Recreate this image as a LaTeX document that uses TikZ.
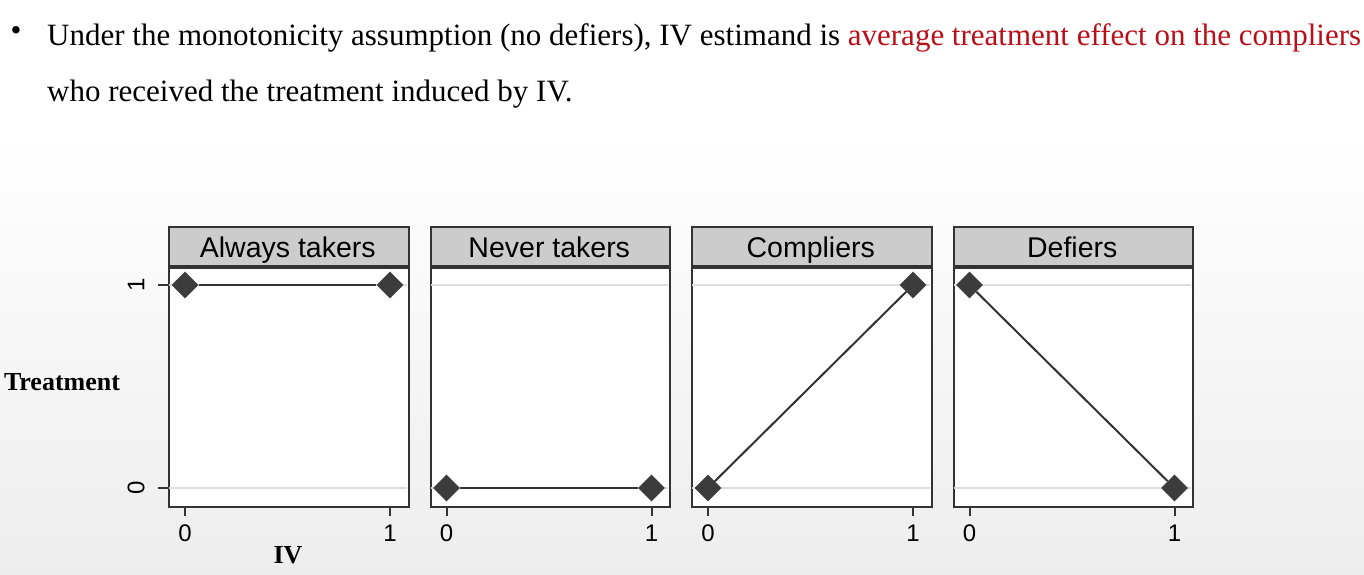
\documentclass[tikz,border=0pt]{standalone}
\usepackage{fontspec}
\setmainfont{Liberation Serif}
\newfontfamily\hsans{Liberation Sans}
\usetikzlibrary{shapes.geometric}
\definecolor{hdr}{gray}{0.80}
\definecolor{frm}{HTML}{333333}
\definecolor{mk}{HTML}{3C3C3C}
\definecolor{grd}{HTML}{DDDDDD}
\definecolor{redtxt}{RGB}{185,15,25}
\tikzset{
  plotarea/.style={draw=frm, line width=2pt, fill=white, minimum width=239.5pt, minimum height=239pt, inner sep=0pt, anchor=north west},
  hdrbox/.style={draw=frm, line width=2pt, fill=hdr, minimum width=239.5pt, minimum height=39pt, inner sep=0pt, anchor=south west},
  hdrtext/.style={font=\hsans\fontsize{28.5}{32}\selectfont, inner sep=0pt, anchor=base},
  gridln/.style={draw=grd, line width=2pt},
  dataln/.style={draw=frm, line width=2pt},
  tickln/.style={draw=frm, line width=2pt},
  ticklab/.style={font=\hsans\fontsize{24}{28}\selectfont, inner sep=0pt},
  diapt/.style={shape=diamond, fill=mk, minimum width=27pt, minimum height=27pt, inner sep=0pt},
  axtitle/.style={font=\bfseries\fontsize{26}{30}\selectfont, inner sep=0pt},
  bodytext/.style={font=\fontsize{31}{37}\selectfont, inner sep=0pt, anchor=base west}
}
\begin{document}
\begin{tikzpicture}[x=1pt,y=-1pt]
\path[use as bounding box] (0,0) rectangle (1364,575);
\fill[white] (0,0) rectangle (1364,575);
\shade[top color=white, bottom color=black!7] (0,130) rectangle (1364,575);

% text
\node[font=\fontsize{31}{37}\selectfont, inner sep=0pt] (bul) at (16,34) {\textbullet};
\node[bodytext] (line1) at (47,46) {Under the monotonicity assumption (no defiers), IV estimand is \textcolor{redtxt}{average treatment effect on the compliers}};
\node[bodytext] (line2) at (47,102) {who received the treatment induced by IV.};

% panels
\foreach \i/\L/\ttl in {1/168/Always takers, 2/429.5/Never takers, 3/691/Compliers, 4/952.5/Defiers}{
  \node[plotarea] (p\i) at (\L,267) {};
  \draw[gridln] (\L+1,285) -- (\L+238.5,285);
  \draw[gridln] (\L+1,488) -- (\L+238.5,488);
  \node[hdrbox] (h\i) at (\L,267) {};
  \node[hdrtext] (ht\i) at (\L+119.75,257) {\ttl};
  \coordinate (xt0\i) at (\L+17,506);
  \coordinate (xb0\i) at (\L+17,516);
  \coordinate (xt1\i) at (\L+222,506);
  \coordinate (xb1\i) at (\L+222,516);
  \draw[tickln] (xt0\i) -- (xb0\i);
  \draw[tickln] (xt1\i) -- (xb1\i);
  \node[ticklab] (xl0\i) at (\L+17,533) {0};
  \node[ticklab] (xl1\i) at (\L+222,533) {1};
}

% y axis
\coordinate (yt1a) at (158,285); \coordinate (yt1b) at (168,285);
\coordinate (yt0a) at (158,488); \coordinate (yt0b) at (168,488);
\draw[tickln] (yt1a) -- (yt1b);
\draw[tickln] (yt0a) -- (yt0b);
\node[ticklab, rotate=90] (yl1) at (136,285) {1};
\node[ticklab, rotate=90] (yl0) at (136,488) {0};
\node[axtitle] (ytitle) at (62,382) {Treatment};
\node[axtitle] (xtitle) at (288,555) {IV};

% data points
\node[diapt] (a0) at (185,285) {};
\node[diapt] (a1) at (390,285) {};
\node[diapt] (n0) at (446.5,488) {};
\node[diapt] (n1) at (651.5,488) {};
\node[diapt] (c0) at (708,488) {};
\node[diapt] (c1) at (913,285) {};
\node[diapt] (d0) at (969.5,285) {};
\node[diapt] (d1) at (1174.5,488) {};
\draw[dataln] (a0) -- (a1);
\draw[dataln] (n0) -- (n1);
\draw[dataln] (c0) -- (c1);
\draw[dataln] (d0) -- (d1);
\end{tikzpicture}
\end{document}
